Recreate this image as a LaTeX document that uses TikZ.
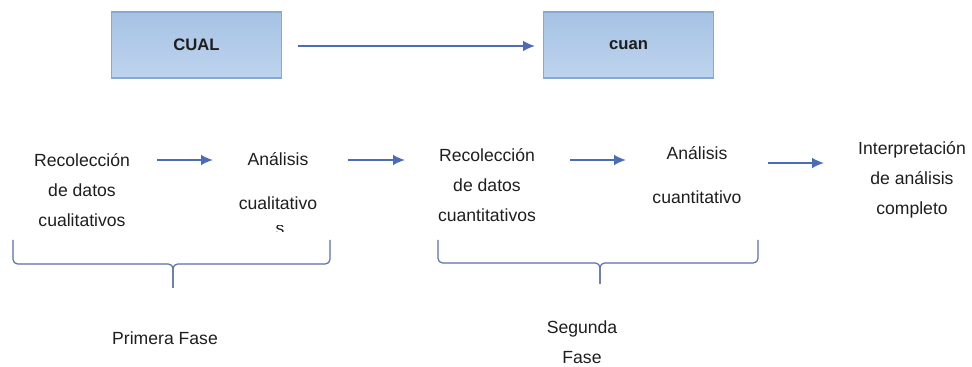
\documentclass[tikz,border=0pt]{standalone}
\usepackage{fontspec}
\setmainfont{Liberation Sans}
\usetikzlibrary{arrows.meta}
\definecolor{arr}{HTML}{4A6DB5}
\definecolor{brc}{HTML}{5B6FA8}
\definecolor{boxtop}{HTML}{A6C2E4}
\definecolor{boxbot}{HTML}{BED4EE}
\definecolor{boxline}{HTML}{86A8D3}
\definecolor{txt}{HTML}{1E1E1E}
\tikzset{
  hbox/.style={draw=boxline, line width=0.8pt, top color=boxtop, bottom color=boxbot,
    minimum width=128pt, minimum height=49.5pt, inner sep=0pt, text=txt,
    font=\fontsize{12.5}{14}\selectfont\bfseries},
  lbl/.style={text=txt, align=center, inner sep=0pt, font=\fontsize{13.2}{22.5}\selectfont},
  flow/.style={draw=arr, line width=1.2pt, -{Latex[length=9pt,width=8pt]}},
  brace/.style={draw=brc, line width=0.9pt, rounded corners=3.5pt}
}
\begin{document}
\begin{tikzpicture}[x=0.75pt,y=-0.75pt]
\useasboundingbox (0,0) rectangle (972,367);
% top boxes
\node[hbox] (cual) at (196.5,45) {CUAL};
\node[hbox] (cuan) at (628.5,45) {cuan};
\coordinate (t1) at (298,46);
\coordinate (t2) at (535,46);
\draw[flow] (t1) -- (t2);
% row labels
\node[lbl, anchor=north] (r1) at (82,153) {Recolección\\de datos\\cualitativos};
\node[lbl, anchor=north] (a1) at (278,152) {Análisis\\[11pt]cualitativo};
\begin{scope}
  \clip (230,226) rectangle (330,232);
  \node[lbl, anchor=north] (a1s) at (280,225) {s};
\end{scope}
\node[lbl, anchor=north] (r2) at (487,148) {Recolección\\de datos\\cuantitativos};
\node[lbl, anchor=north] (a2) at (697,146) {Análisis\\[11pt]cuantitativo};
\node[lbl, anchor=north] (ip) at (912,141) {Interpretación\\de análisis\\completo};
% arrow endpoints
\coordinate (e1a) at (157,160); \coordinate (e1b) at (213,160);
\coordinate (e2a) at (348,160); \coordinate (e2b) at (405,160);
\coordinate (e3a) at (570,160); \coordinate (e3b) at (626,160);
\coordinate (e4a) at (768,163); \coordinate (e4b) at (824,163);
\draw[flow] (e1a) -- (e1b);
\draw[flow] (e2a) -- (e2b);
\draw[flow] (e3a) -- (e3b);
\draw[flow] (e4a) -- (e4b);
% braces
\draw[brace] (13,240) -- (13,264) -- (173,264) -- (173,288);
\draw[brace] (173,288) -- (173,264) -- (330,264) -- (330,240);
\draw[brace] (438,240) -- (438,263) -- (600,263) -- (600,284);
\draw[brace] (600,284) -- (600,263) -- (758,263) -- (758,240);
% phase labels
\node[lbl] (f1) at (165,338) {Primera Fase};
\node[lbl] (f2) at (582,342) {Segunda\\Fase};
\end{tikzpicture}
\end{document}
